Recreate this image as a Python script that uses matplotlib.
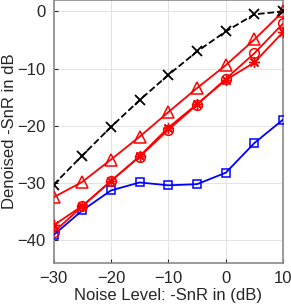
import matplotlib
matplotlib.use('Agg')
import matplotlib.pyplot as plt

plt.rcParams['font.family'] = ['Liberation Sans', 'DejaVu Sans']

# noise level (-SnR in dB)
noise = [-30, -25, -20, -15, -10, -5, 0, 5, 10]

# denoised -SnR for each method
black_x = [-30.3, -25.2, -20.2, -15.5, -11.1, -7.0, -3.5, -0.5, 0.0]
red_tri = [-32.5, -29.8, -25.9, -21.9, -17.6, -13.4, -9.4, -4.9, 0.0]
red_circ = [-38.6, -34.1, -29.6, -25.4, -20.7, -16.3, -11.8, -7.3, -2.1]
red_star = [-37.4, -34.0, -29.7, -25.3, -20.3, -16.2, -12.0, -8.9, -3.6]
blue_sq = [-39.1, -34.8, -31.3, -29.9, -30.4, -30.2, -28.2, -23.0, -18.9]

xticks = [-30, -20, -10, 0, 10]
yticks = [-40, -30, -20, -10, 0]

fig = plt.figure(figsize=(2.91, 3.07), dpi=100)
ax = fig.add_axes([0.184, 0.143, 0.789, 0.857])

lw = 1.3
ax.plot(noise, black_x, 'k--', marker='x', ms=6.5, mew=1.3, lw=lw, zorder=5)
ax.plot(noise, red_tri, color='r', marker='^', ms=8, mfc='none', mew=1.1, lw=lw, zorder=4)
ax.plot(noise, red_circ, color='r', marker='o', ms=7, mfc='none', mew=1.1, lw=lw, zorder=4)
ax.plot(noise, red_star, color='r', marker=(8, 2, 0), ms=8, mew=1.0, lw=lw, zorder=4)
ax.plot(noise, blue_sq, color='b', marker='s', ms=5.5, mfc='none', mew=1.1, lw=lw, zorder=3)

ax.set_xlim(-30, 10)
ax.set_ylim(-44, 2)
ax.set_xticks(xticks)
ax.set_yticks(yticks)
ax.grid(True, color='#e3e3e3', lw=0.7)
ax.set_axisbelow(True)
ax.tick_params(direction='in', length=3, labelsize=12, colors='#262626', pad=6)
for s in ax.spines.values():
    s.set_color('#8a8a8a')
    s.set_linewidth(1.2)
ax.set_xlabel('Noise Level: -SnR in (dB)', fontsize=12, color='#262626', labelpad=1)
ax.set_ylabel('Denoised -SnR in dB', fontsize=12, color='#262626', va='center')
ax.yaxis.set_label_coords(-0.192, 0.5)

fig.savefig('out.png', dpi=100)
